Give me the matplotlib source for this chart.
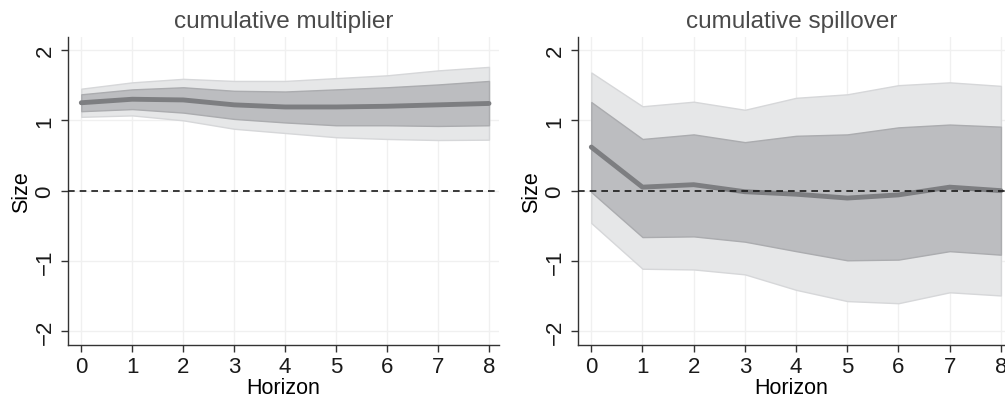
import matplotlib.pyplot as plt

plt.rcParams['font.family'] = ['Liberation Sans', 'DejaVu Sans']

horizon = [0, 1, 2, 3, 4, 5, 6, 7, 8]

# cumulative multiplier
mult_mid = [1.25, 1.30, 1.29, 1.22, 1.19, 1.19, 1.20, 1.22, 1.24]
mult_hi90 = [1.45, 1.54, 1.59, 1.56, 1.56, 1.60, 1.64, 1.71, 1.76]
mult_hi68 = [1.37, 1.44, 1.47, 1.42, 1.41, 1.44, 1.47, 1.51, 1.56]
mult_lo68 = [1.13, 1.16, 1.11, 1.02, 0.97, 0.93, 0.93, 0.92, 0.93]
mult_lo90 = [1.05, 1.07, 1.00, 0.88, 0.82, 0.76, 0.735, 0.72, 0.725]

# cumulative spillover
spill_mid = [0.62, 0.05, 0.085, -0.015, -0.05, -0.105, -0.06, 0.05, 0.0]
spill_hi90 = [1.68, 1.20, 1.265, 1.15, 1.32, 1.37, 1.50, 1.54, 1.49]
spill_hi68 = [1.26, 0.735, 0.80, 0.69, 0.78, 0.80, 0.90, 0.94, 0.91]
spill_lo68 = [-0.02, -0.66, -0.65, -0.725, -0.86, -0.99, -0.98, -0.86, -0.91]
spill_lo90 = [-0.46, -1.11, -1.12, -1.19, -1.41, -1.57, -1.60, -1.445, -1.49]

fig = plt.figure(figsize=(10.05, 4.02), dpi=100)
ax1 = fig.add_axes([0.0677, 0.139, 0.4288, 0.7665])
ax2 = fig.add_axes([0.5751, 0.139, 0.4249, 0.7665])

panels = [
    (ax1, "cumulative multiplier", mult_mid, mult_hi90, mult_hi68, mult_lo68, mult_lo90, 8.196),
    (ax2, "cumulative spillover", spill_mid, spill_hi90, spill_hi68, spill_lo68, spill_lo90, 8.08),
]

for ax, title, mid, hi90, hi68, lo68, lo90, xr in panels:
    ax.fill_between(horizon, lo90, hi90, color='#e6e7e8', edgecolor='#d6d7d9', lw=1, zorder=2)
    ax.fill_between(horizon, lo68, hi68, color='#bcbdc0', edgecolor='#abacaf', lw=1, zorder=3)
    ax.plot(horizon, mid, color='#7d7e81', lw=3.5, solid_capstyle='round', zorder=4)
    # zero line sits on top of the estimate
    ax.axhline(0, color='#1a1a1a', ls=(0, (4, 3)), lw=1.2, zorder=5)

    ax.set_xlim(-0.26, xr)
    ax.set_ylim(-2.196, 2.185)
    ax.set_xticks(horizon)
    ax.set_yticks([-2, -1, 0, 1, 2])
    ax.set_yticklabels(['\u22122', '\u22121', '0', '1', '2'], rotation=90, va='center')
    ax.grid(True, color='#f0f0f0', lw=1, zorder=0)
    ax.set_axisbelow(True)
    for s in ['top', 'right']:
        ax.spines[s].set_visible(False)
    for s in ['left', 'bottom']:
        ax.spines[s].set_color('#333333')
        ax.spines[s].set_linewidth(1)
    ax.tick_params(colors='#333333', labelcolor='#1a1a1a', labelsize=16, length=5, width=1)
    ax.tick_params(axis='x', pad=3)
    ax.tick_params(axis='y', pad=4)
    ax.set_title(title, fontsize=17.5, color='#4a4a4a', pad=7)
    ax.set_xlabel("Horizon", fontsize=15.5, labelpad=0)
    ax.set_ylabel("Size", fontsize=15.5, labelpad=2)

fig.savefig("out.png", dpi=100)
